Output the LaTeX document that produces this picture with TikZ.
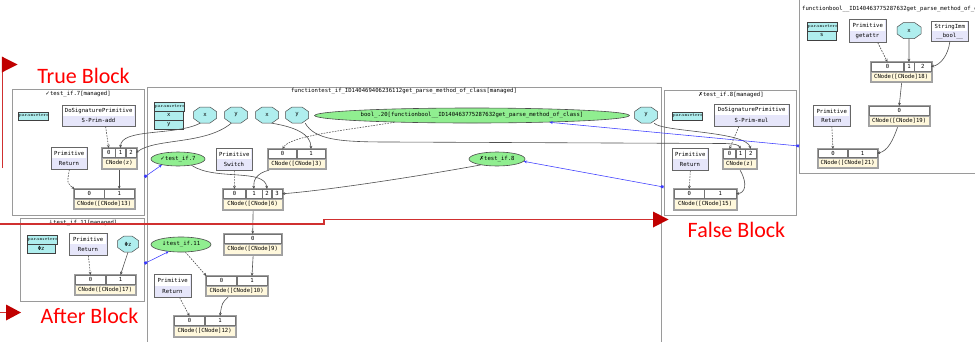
\documentclass[tikz,border=0pt]{standalone}
\usepackage{fontspec}
\setmonofont{DejaVu Sans Mono}
\newfontfamily\symfont{DejaVu Sans}
\newfontfamily\calibfont{Carlito}
\usetikzlibrary{arrows.meta,shapes.geometric}

\definecolor{pcyan}{HTML}{AFEEEE}
\definecolor{plav}{HTML}{E6E6FA}
\definecolor{pcorn}{HTML}{FFF8DC}
\definecolor{pgreen}{HTML}{90EE90}
\definecolor{redtxt}{HTML}{FF0000}
\definecolor{redarr}{HTML}{C00000}
\definecolor{redline}{HTML}{D03030}
\definecolor{edgec}{HTML}{505050}
\definecolor{clus}{HTML}{9A9A9A}
\definecolor{bluec}{HTML}{3A3AFF}

\tikzset{
 mono/.style={font=\fontsize{5.6}{6.5}\selectfont\ttfamily},
 cluster/.style={draw=clus, line width=0.9pt},
 ctitle/.style={mono, inner sep=0},
 recouter/.style={rectangle, draw=gray!75, fill=gray!50, line width=1.2pt, inner sep=0},
 reccell/.style={rectangle, draw=black!55, fill=white, line width=0.4pt, inner sep=0, mono},
 reclabel/.style={rectangle, draw=black!35, fill=pcorn, line width=0.4pt, inner sep=0, mono},
 primouter/.style={rectangle, draw=gray!80!black, fill=plav, line width=0.7pt, inner sep=0},
 primtop/.style={rectangle, fill=white, inner sep=0, mono},
 octfill/.style={fill=pcyan, draw=gray!60!black, line width=0.5pt},
 octtext/.style={rectangle, inner sep=0, minimum height=16, mono},
 gell/.style={ellipse, draw=gray!60!black, fill=pgreen, line width=0.6pt, inner sep=0, mono},
 parhead/.style={rectangle, draw=gray!50!black, fill=pcyan, line width=0.5pt, inner sep=0, font=\fontsize{4.6}{5}\selectfont},
 parrow/.style={rectangle, draw=gray!50!black, fill=pcyan, line width=0.5pt, inner sep=0, mono},
 conn/.style={draw=edgec, line width=0.6pt, -{Stealth[length=3.2pt,width=2.8pt]}},
 dconn/.style={conn, dash pattern=on 1.6pt off 1.2pt},
 bconn/.style={draw=bluec, line width=0.55pt, {Square[length=2.6pt,width=2.6pt]}-{Stealth[length=3.2pt,width=2.8pt]}},
 redpath/.style={draw=redline, line width=1.3pt},
 redtip/.style={fill=redarr, draw=none},
 redlab/.style={text=redtxt, font=\fontsize{22}{24}\selectfont\calibfont, inner sep=0},
}

% record node: name, x1, y1, x2, y2, label, cells (a/b list)
\newcommand\mkrec[7]{%
 \node[recouter, anchor=north west, minimum width=#4-#2, minimum height=#5-#3] (#1) at (#2,#3) {};
 \pgfmathsetmacro\ymid{#3+(#5-#3)*0.5}
 \node[reclabel, anchor=north west, minimum width=#4-#2-2, minimum height=#5-\ymid-1] (#1-l) at (#2+1,\ymid) {#6};
 \foreach \a/\b [count=\i from 0] in {#7} {
   \node[reccell, anchor=north west, minimum width=\b-\a-0.8, minimum height=\ymid-#3-1.8] (#1-\i) at (\a+0.4,#3+1) {\i};
 }
}
% primitive box: name, x1, y1, x2, y2, top, bottom
\newcommand\mkprim[7]{%
 \node[primouter, anchor=north west, minimum width=#4-#2, minimum height=#5-#3] (#1) at (#2,#3) {};
 \node[primtop, anchor=north west, minimum width=#4-#2-2.4, minimum height=(#5-#3)/2-1.2] (#1-t) at (#2+1.2,#3+1.2) {#6};
 \node[mono, inner sep=0] (#1-b) at ({(#2+#4)/2},{#3+(#5-#3)*0.74}) {#7};
}
% octagon: name, cx, cy, text, halfwidth
\newcommand\mkoct[5]{%
 \filldraw[octfill] ({#2-#5},{#3-3.4}) -- ({#2-#5+6.5},{#3-8}) -- ({#2+#5-6.5},{#3-8}) -- ({#2+#5},{#3-3.4}) -- ({#2+#5},{#3+3.4}) -- ({#2+#5-6.5},{#3+8}) -- ({#2-#5+6.5},{#3+8}) -- ({#2-#5},{#3+3.4}) -- cycle;
 \node[octtext, minimum width=2*#5] (#1) at (#2,#3) {#4};
}
% parameters header: name, x1, y1, x2
\newcommand\mkparh[4]{%
 \node[parhead, anchor=north west, minimum width=#4-#2, minimum height=8.5] (#1) at (#2,#3) {parameters};
}
% parameters row: name, x1, y1, x2, text
\newcommand\mkparr[5]{%
 \node[parrow, anchor=north west, minimum width=#4-#2, minimum height=9] (#1) at (#2,#3) {#5};
}

\begin{document}
\begin{tikzpicture}[x=1pt,y=-1pt]
\useasboundingbox (0,0) rectangle (975,341);
\fill[white] (0,0) rectangle (975,341);

% ---------------- clusters ----------------
\draw[cluster] (12,89) rectangle (144,215);
\node[ctitle] (tT) at (78,94) {{\symfont ✓}test\_if.7[managed]};
\draw[cluster] (20,218) rectangle (144,301);
\node[ctitle] (tA) at (83,223) {{\symfont ↓}test\_if.11[managed]};
\draw[cluster] (147,87) rectangle (661,350);
\node[ctitle] (tM) at (404,91) {functiontest\_if\_ID140469406236112get\_parse\_method\_of\_class[managed]};
\draw[cluster] (664,90) rectangle (796,215);
\node[ctitle] (tF) at (731,95) {{\symfont ✗}test\_if.8[managed]};
\draw[cluster] (799,-5) rectangle (995,173);
\node[ctitle, anchor=west] (tB) at (802,9) {functionbool\_\_ID140463775287632get\_parse\_method\_of\_class[managed]};

% ---------------- true cluster ----------------
\mkparh{pT}{18}{111.5}{47}
\mkprim{sadd}{62}{105}{135}{126}{DoSignaturePrimitive}{S-Prim-add}
\mkprim{retT}{51}{147}{87}{169}{Primitive}{Return}
\mkrec{zT}{101}{147}{137}{169}{CNode(z)}{102/115,115/125.5,125.5/136}
\mkrec{cT}{73}{188}{135}{209}{CNode([CNode]13)}{74/104,104/134}

% ---------------- after cluster ----------------
\mkparh{pA}{27}{235}{55}
\mkparr{pA1}{27}{243.5}{55}{Φz}
\mkprim{retA}{69}{233}{107}{255}{Primitive}{Return}
\mkoct{phz}{128}{244}{Φz}{10.5}
\mkrec{cA}{74}{274}{136}{295}{CNode([CNode]17)}{75/105.5,105.5/135}

% ---------------- main cluster ----------------
\mkparh{pM}{154}{102}{183}
\mkparr{pM1}{154}{110.5}{183}{x}
\mkparr{pM2}{154}{119.5}{183}{y}
\mkoct{xA}{205}{115}{x}{11.5}
\mkoct{yA}{236}{115}{y}{11.5}
\mkoct{xB}{267}{115}{x}{11.5}
\mkoct{yB}{297}{115}{y}{11.5}
\mkoct{yC}{646}{115}{y}{11.5}
\node[gell, minimum width=311, minimum height=15] (bool) at (472,115.5) {bool\_.20[functionbool\_\_ID140463775287632get\_parse\_method\_of\_class]};
\node[gell, minimum width=54, minimum height=14] (t7) at (178,159) {{\symfont ✓}test\_if.7};
\node[gell, minimum width=56, minimum height=14] (t8) at (497,159) {{\symfont ✗}test\_if.8};
\node[gell, minimum width=60, minimum height=15] (t11) at (181,244.5) {{\symfont ↓}test\_if.11};
\mkprim{sw}{216}{148}{252}{170}{Primitive}{Switch}
\mkrec{c3}{267}{148}{326}{169}{CNode([CNode]3)}{268/296.5,296.5/325}
\mkrec{c6}{222}{188}{283}{210}{CNode([CNode]6)}{223/245.5,245.5/262,262/271.5,271.5/282}
\mkrec{c9}{223}{233}{282}{255}{CNode([CNode]9)}{224/281}
\mkrec{c10}{205}{275}{268}{296}{CNode([CNode]10)}{206/236.5,236.5/267}
\mkprim{retM}{154}{274}{191}{297}{Primitive}{Return}
\mkrec{c12}{173}{315}{236}{337}{CNode([CNode]12)}{174/204.5,204.5/235}

% ---------------- false cluster ----------------
\mkparh{pF}{672}{111.5}{699}
\mkprim{smul}{714}{104}{789}{126}{DoSignaturePrimitive}{S-Prim-mul}
\mkprim{retF}{672}{148}{708}{170}{Primitive}{Return}
\mkrec{zF}{722}{148}{757}{169}{CNode(z)}{723/735.5,735.5/745,745/756}
\mkrec{cF}{673}{188}{737}{210}{CNode([CNode]15)}{674/704,704/736}

% ---------------- bool function cluster ----------------
\mkparh{pB}{807}{22}{836}
\mkparr{pB1}{807}{30.5}{836}{s}
\mkprim{gattr}{849}{19}{886}{42}{Primitive}{getattr}
\mkoct{xD}{909}{30.5}{x}{12}
\mkprim{simm}{931}{21}{968}{41}{StringImm}{\_\_bool\_\_}
\mkrec{c18}{870}{61}{932}{82}{CNode([CNode]18)}{871/903.5,903.5/914,914/931}
\mkrec{c19}{868}{105}{930}{126}{CNode([CNode]19)}{869/929}
\mkprim{retB}{813}{105}{850}{126}{Primitive}{Return}
\mkrec{c21}{817}{148}{878}{168}{CNode([CNode]21)}{818/847.5,847.5/877}

% ---------------- edges ----------------
% true
\draw[dconn] (sadd.-58) -- (zT-0.north);
\draw[conn] (zT.south -| cT-1.north) -- (cT-1.north);
\draw[dconn] (retT.south) .. controls (67,183) .. (cT-0.north west);
\draw[conn] (xA.-120) .. controls (175,136) and (121,128) .. (zT-1.north);
\draw[conn] (yA.-120) .. controls (205,145) and (155,138) .. (zT-2.east);
% after
\draw[dconn] (retA.south) -- (cA-0.north);
\draw[conn] (phz.south) -- (cA-1.north);
% main
\draw[conn] (xB.-60) .. controls (295,127) and (311,134) .. (c3-1.north);
\draw[dconn] (bool.-175) .. controls (340,131) and (290,136) .. (c3-0.north);
\draw[conn] (yB.-45) .. controls (315,140) and (340,142) .. (390,142) -- (725,143.5) .. controls (736,144) and (739,145) .. (zF-1.north);
\draw[conn] (yC.-45) .. controls (662,132) and (746,131) .. (zF-2.north);
\draw[conn] (t7.-25) .. controls (215,181) and (265,168) .. (c6-2.north);
\draw[conn] ([xshift=2pt]c3.south west) .. controls (257,173) and (253,180) .. (c6-1.north);
\draw[dconn] (sw.south) -- (c6-0.north);
\draw[conn] (t8.-160) .. controls (420,176) and (330,190) .. (c6-3.east);
\draw[conn] (c6.south) -- (c9-0.north);
\draw[conn] (c9.south) -- (c10-1.north);
\draw[dconn] (t11.-60) -- (c10-0.north west);
\draw[conn] ([xshift=-9pt]c10.south) .. controls (222,303) .. (c12-1.north);
\draw[dconn] (retM.-60) -- (c12-0.north);
% false
\draw[dconn] (smul.-139) -- (zF-0.north);
\draw[dconn] (retF.south) -- (cF-0.north);
\draw[conn] (zF.south) .. controls (748,184) and (745,193) .. (cF-1.east);
% bool function
\draw[dconn] (gattr.-50) -- (c18-0.north);
\draw[conn] (xD.south) -- (c18-1.north);
\draw[conn] (simm.south) .. controls (948,56) and (940,65) .. (c18-2.east);
\draw[conn] (c18.south) -- (c19-0.north);
\draw[conn] ([xshift=-2pt]c19.south) .. controls (893,140) and (888,151) .. (c21-1.east);
\draw[dconn] (retB.south) -- (c21-0.north);

% blue cross-cluster links
\coordinate (dT) at (144.5,177);
\coordinate (dA) at (144.5,263.5);
\coordinate (dF) at (663.5,187);
\coordinate (dB) at (799,146);
\draw[bconn] (dT) -- (t7.200);
\draw[bconn] (dA) -- (t11.210);
\draw[bconn] (dF) -- (t8.-5);
\draw[bconn] (dB) -- (bool.-5.2);

% ---------------- red annotations ----------------
\draw[redpath] (2.5,168) -- (2.5,64);
\fill[redtip] (1.8,56.5) -- (17.5,64.5) -- (1.8,72.5) -- cycle;
\draw[redpath] (0,224) -- (324,224) -- (324,219.5) -- (656,219.5);
\fill[redtip] (653,211.5) -- (668.5,219.5) -- (653,227.5) -- cycle;
\draw[redpath] (0,312.5) -- (8,312.5);
\fill[redtip] (6,304.5) -- (21,312.5) -- (6,320.5) -- cycle;

\node[redlab] (lblT) at (83.5,76) {True Block};
\node[redlab] (lblF) at (736.5,230) {False Block};
\node[redlab] (lblA) at (89.5,315.5) {After Block};
\end{tikzpicture}
\end{document}
